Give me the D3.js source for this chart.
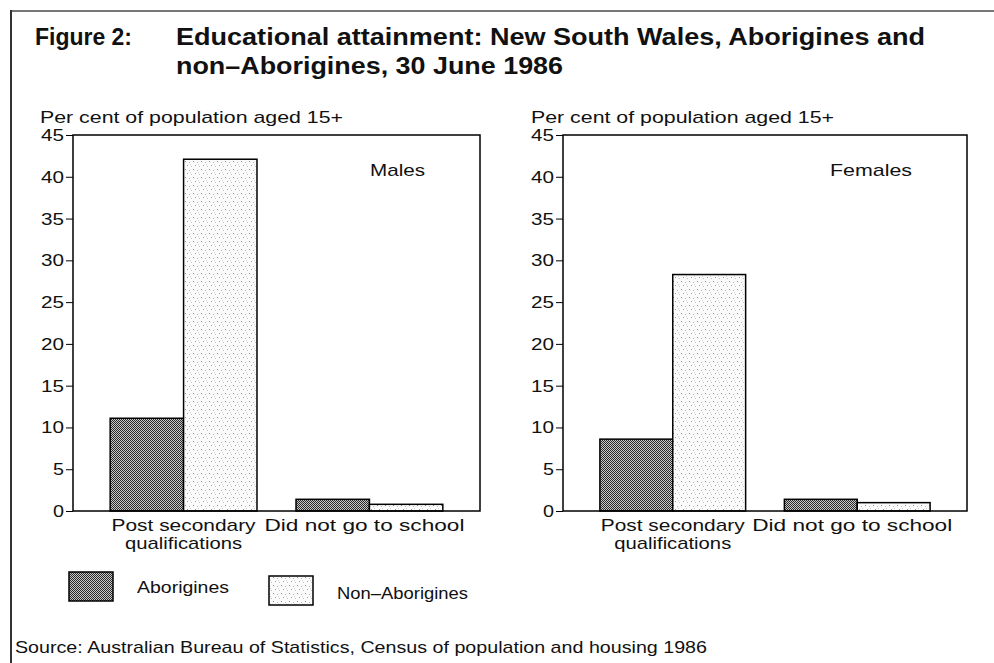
<!DOCTYPE html>
<html>
<head>
<meta charset="utf-8">
<script src="https://cdn.jsdelivr.net/npm/d3@7"></script>
<style>
  body { margin: 0; background: #fff; }
  text { font-family: "Liberation Sans", Arial, Helvetica, sans-serif; fill: #111; }
</style>
</head>
<body>
<svg id="chart" width="994" height="663"></svg>
<script>
// ---- data -------------------------------------------------------------
const categories = ["Post secondary qualifications", "Did not go to school"];
const categoryLines = [["Post secondary", "qualifications"], ["Did not go to school"]];
const groups = ["Aborigines", "Non–Aborigines"];
const malesAborigines = [11.1, 1.4];
const malesNonAborigines = [42.1, 0.8];
const femalesAborigines = [8.6, 1.4];
const femalesNonAborigines = [28.3, 1.0];
const yTicks = [0, 5, 10, 15, 20, 25, 30, 35, 40, 45];
const panelNames = ["Males", "Females"];
const yLabel = "Per cent of population aged 15+";
const titleLead = "Figure 2:";
const titleLines = ["Educational attainment: New South Wales, Aborigines and",
                    "non–Aborigines, 30 June 1986"];
const sourceNote = "Source:  Australian Bureau of Statistics, Census of population and housing 1986";

// ---- setup ------------------------------------------------------------
const svg = d3.select("#chart");
const defs = svg.append("defs");

// dense cross-hatch for Aborigines
const hatch = defs.append("pattern").attr("id", "pat-abor")
  .attr("patternUnits", "userSpaceOnUse").attr("width", 2).attr("height", 2);
hatch.append("rect").attr("width", 2).attr("height", 2).attr("fill", "#c8c8c8");
hatch.append("rect").attr("x", 0).attr("y", 0).attr("width", 1).attr("height", 1).attr("fill", "#2a2a2a");
hatch.append("rect").attr("x", 1).attr("y", 1).attr("width", 1).attr("height", 1).attr("fill", "#2a2a2a");

// light stipple for non-Aborigines
const stip = defs.append("pattern").attr("id", "pat-non")
  .attr("patternUnits", "userSpaceOnUse").attr("width", 8).attr("height", 8);
stip.append("rect").attr("width", 8).attr("height", 8).attr("fill", "#fbfbfb");
[[1,1,"#8a8a8a"],[5,2,"#b8b8b8"],[3,5,"#9a9a9a"],[7,6,"#c0c0c0"],[6,4,"#d0d0d0"]]
  .forEach(([x, y, c]) => stip.append("rect").attr("x", x).attr("y", y)
    .attr("width", 1).attr("height", 1).attr("fill", c));

const fills = { "Aborigines": "url(#pat-abor)", "Non–Aborigines": "url(#pat-non)" };

// stretch a text element to a given width
function fit(sel, w) {
  sel.attr("textLength", w).attr("lengthAdjust", "spacingAndGlyphs");
  return sel;
}

// ---- outer frame ------------------------------------------------------
svg.append("line").attr("x1", 11).attr("x2", 994).attr("y1", 11).attr("y2", 11)
  .attr("stroke", "#777").attr("stroke-width", 2);
svg.append("line").attr("x1", 11).attr("x2", 11).attr("y1", 10).attr("y2", 663)
  .attr("stroke", "#333").attr("stroke-width", 2);

// ---- title ------------------------------------------------------------
fit(svg.append("text").attr("x", 35).attr("y", 45)
  .attr("font-size", 23).attr("font-weight", "bold").text(titleLead), 97);
fit(svg.append("text").attr("x", 176).attr("y", 45)
  .attr("font-size", 23).attr("font-weight", "bold").text(titleLines[0]), 749);
fit(svg.append("text").attr("x", 176).attr("y", 74)
  .attr("font-size", 23).attr("font-weight", "bold").text(titleLines[1]), 387);

// ---- panels -----------------------------------------------------------
const y = d3.scaleLinear().domain([0, 45]).range([511, 135]);

const panels = [
  { name: panelNames[0], x0: 73, x1: 480, labelX: 40, values: [malesAborigines, malesNonAborigines] },
  { name: panelNames[1], x0: 563, x1: 967, labelX: 531, values: [femalesAborigines, femalesNonAborigines] }
];

panels.forEach(p => {
  const g = svg.append("g");
  const x = d3.scaleBand().domain(categories).range([p.x0, p.x1])
    .paddingInner(0.21).paddingOuter(0.2);
  const xs = d3.scaleBand().domain(groups).range([0, x.bandwidth()]);

  // y-axis title
  fit(g.append("text").attr("x", p.labelX).attr("y", 123).attr("font-size", 17).text(yLabel), 303);

  // bars
  categories.forEach((c, i) => {
    groups.forEach((grp, j) => {
      const v = p.values[j][i];
      g.append("rect")
        .attr("x", x(c) + xs(grp))
        .attr("width", xs.bandwidth())
        .attr("y", y(v))
        .attr("height", y(0) - y(v))
        .attr("fill", fills[grp])
        .attr("stroke", "#000").attr("stroke-width", 1.5);
    });
  });

  // plot frame
  g.append("rect").attr("x", p.x0).attr("y", y(45)).attr("width", p.x1 - p.x0)
    .attr("height", y(0) - y(45)).attr("fill", "none")
    .attr("stroke", "#000").attr("stroke-width", 1.5);

  // y axis
  const ax = g.append("g").attr("transform", `translate(${p.x0},0)`)
    .call(d3.axisLeft(y).tickValues(yTicks).tickSize(7).tickPadding(2).tickFormat(d3.format("d")));
  ax.select(".domain").remove();
  ax.selectAll(".tick line").attr("stroke", "#000").attr("stroke-width", 1);
  ax.selectAll(".tick text").attr("font-size", 17).attr("fill", "#111")
    .attr("font-family", "Liberation Sans, Arial, sans-serif")
    .each(function () { fit(d3.select(this), this.textContent.length === 1 ? 11 : 23); });

  // category labels
  categories.forEach((c, i) => {
    const cx = x(c) + x.bandwidth() / 2 - (i === 1 ? 5 : 0);
    categoryLines[i].forEach((line, k) => {
      const t = g.append("text").attr("x", cx).attr("y", 531 + k * 18)
        .attr("text-anchor", "middle").attr("font-size", 17).text(line);
      fit(t, line === "Post secondary" ? 144 : line === "qualifications" ? 117 : 200);
    });
  });

  // panel name
  const nameW = p.name === "Males" ? 55 : 82;
  fit(g.append("text").attr("x", p.x1 - 55 - nameW / 2).attr("y", 176)
    .attr("text-anchor", "middle").attr("font-size", 17).text(p.name), nameW);
});

// ---- legend -----------------------------------------------------------
const legendItems = [
  { key: groups[0], x: 69, y: 572, tx: 137, ty: 593, tw: 92 },
  { key: groups[1], x: 269, y: 576, tx: 337, ty: 599, tw: 131 }
];
legendItems.forEach(d => {
  svg.append("rect").attr("x", d.x).attr("y", d.y).attr("width", 44).attr("height", 29)
    .attr("fill", fills[d.key]).attr("stroke", "#000").attr("stroke-width", 1.5);
  fit(svg.append("text").attr("x", d.tx).attr("y", d.ty).attr("font-size", 17).text(d.key), d.tw);
});

// ---- source -----------------------------------------------------------
fit(svg.append("text").attr("x", 15).attr("y", 653).attr("font-size", 17).text(sourceNote), 692);
</script>
</body>
</html>
